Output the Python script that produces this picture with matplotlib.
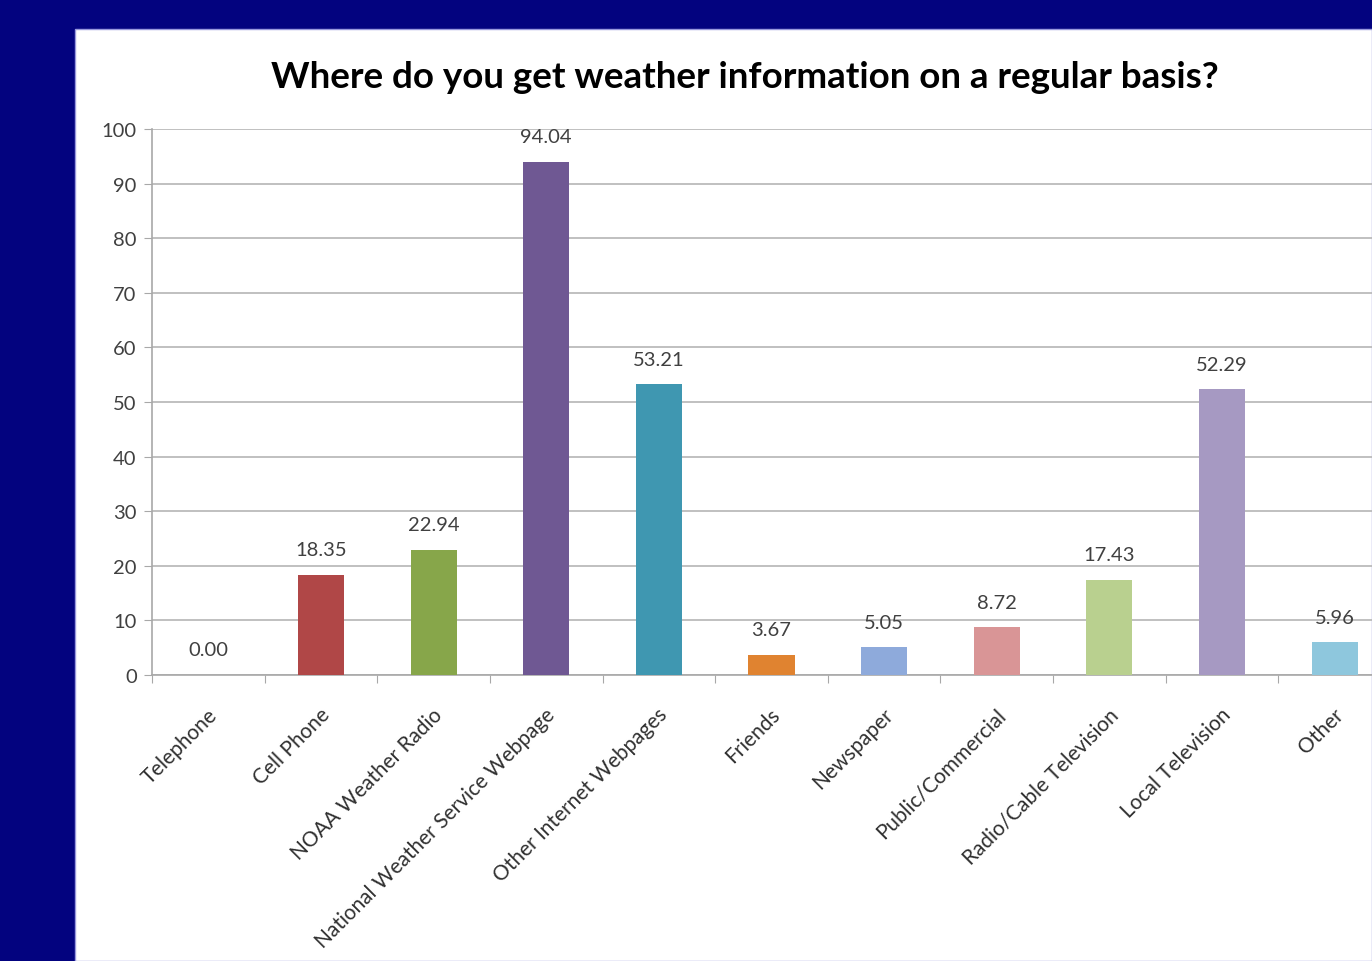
import matplotlib
matplotlib.use("Agg")
import matplotlib.pyplot as plt
from matplotlib.patches import Rectangle
import numpy as np

categories = ["Telephone", "Cell Phone", "NOAA Weather Radio", "National Weather Service Webpage",
              "Other Internet Webpages", "Friends", "Newspaper", "Public/Commercial",
              "Radio/Cable Television", "Local Television", "Other"]
values = [0.00, 18.35, 22.94, 94.04, 53.21, 3.67, 5.05, 8.72, 17.43, 52.29, 5.96]
colors = ["#4f81bd", "#b04747", "#87a64a", "#6f5893", "#3f97b1", "#e08330",
          "#8eaadb", "#d99596", "#b9d08f", "#a699c2", "#8ec7dd"]
yticks = [0, 10, 20, 30, 40, 50, 60, 70, 80, 90, 100]
title = "Where do you get weather information on a regular basis?"

W, H = 1372, 962
fig = plt.figure(figsize=(W / 100, H / 100), dpi=100)
fig.patch.set_facecolor("#03037f")
fig.patches.append(Rectangle((75 / W, 0), 1 - 75 / W, 1 - 30 / H, transform=fig.transFigure,
                             facecolor="white", edgecolor="#9999dd", linewidth=1, zorder=-5))

left, right = 152 / W, 1391 / W
bottom, top = 1 - 676 / H, 1 - 130 / H
ax = fig.add_axes([left, bottom, right - left, top - bottom])
ax.set_zorder(5)
ax.patch.set_alpha(0)

x = np.arange(len(categories))
ax.bar(x, values, width=0.41, color=colors, zorder=3)
ax.set_xlim(-0.5, len(categories) - 0.5)
ax.set_ylim(0, 100)
ax.set_yticks(yticks)
ax.set_yticklabels([str(t) for t in yticks], fontsize=14.5, color="#404040", family="Lato")
ax.grid(axis="y", color="#b5b5b5", linewidth=1.2, zorder=0)
ax.set_axisbelow(True)

for s in ["top", "right"]:
    ax.spines[s].set_visible(False)
for s in ["left", "bottom"]:
    ax.spines[s].set_color("#a8a8a8")
    ax.spines[s].set_linewidth(1.2)

ax.tick_params(axis="y", length=6, color="#a8a8a8", pad=5)
ax.set_xticks(np.arange(len(categories) + 1) - 0.5)
ax.set_xticklabels([])
ax.tick_params(axis="x", length=6, color="#a8a8a8")

for xi, c in zip(x, categories):
    ax.annotate(c, xy=(xi, 0), xycoords=("data", "axes fraction"),
                xytext=(4, -26), textcoords="offset points",
                rotation=45, rotation_mode="anchor", ha="right", va="center",
                fontsize=15, color="#303030", family="Lato", annotation_clip=False)

for xi, v in zip(x, values):
    ax.annotate(f"{v:.2f}", xy=(xi, v), xytext=(0, 12), textcoords="offset points",
                ha="center", va="bottom", fontsize=14.5, color="#404040", family="Lato",
                annotation_clip=False)

fig.text(745 / W, 1 - 77 / H, title, ha="center", va="center", fontsize=26.5,
         fontweight="bold", color="#000000", family="Lato")

fig.savefig("out.png", dpi=100, facecolor=fig.get_facecolor())
